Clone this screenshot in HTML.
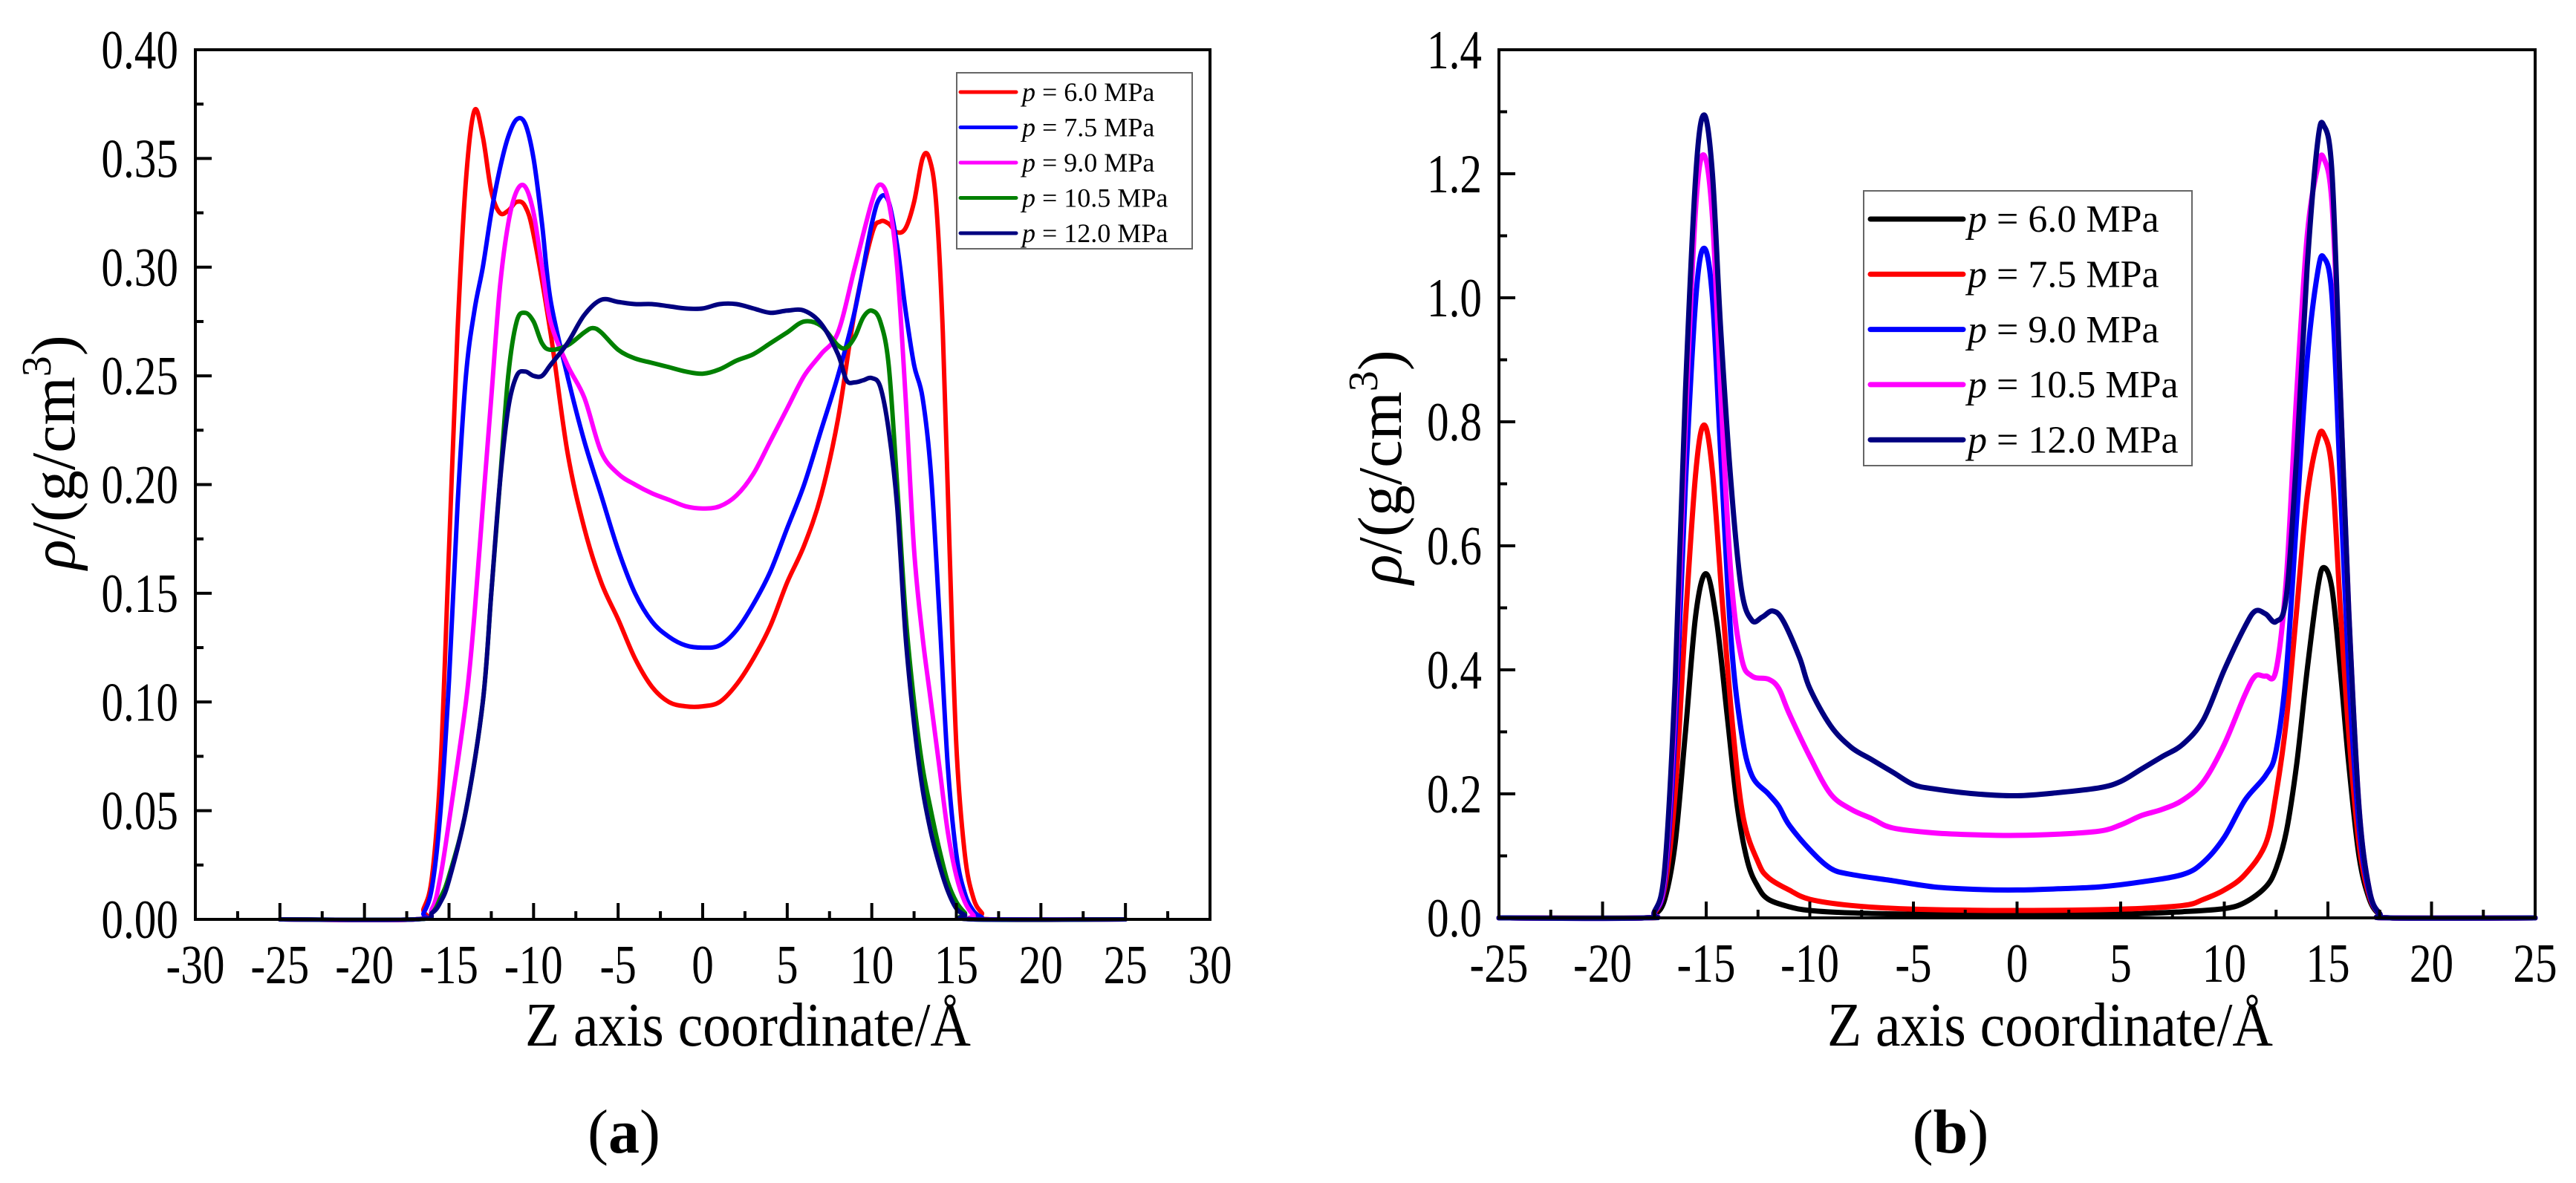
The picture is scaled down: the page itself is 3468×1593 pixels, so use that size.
<!DOCTYPE html>
<html><head><meta charset="utf-8"><style>
html,body{margin:0;padding:0;background:#fff;}
svg{display:block;font-family:"Liberation Serif",serif;}
</style></head><body>
<svg id="fig" width="3468" height="1593" viewBox="0 0 3468 1593" xmlns="http://www.w3.org/2000/svg">
<rect width="3468" height="1593" fill="#fff"/>
<g id="panelA"></g>
<g id="panelB"></g>
</svg>
<script>
// ---- Panel (a) data ----
const aLabels = ["6.0","7.5","9.0","10.5","12.0"];
const aColors = ["#ff0000","#0000ff","#ff00ff","#008000","#000080"];
const aX0 = [-25,-17,-16.5,-16,-15.5,-15,-14.5,-14,-13.5,-13,-12.5,-12,-11.5,-11,-10.5,-10,-9,-8,-7,-6,-5,-4,-3,-2,-1,0,1,2,3,4,5,6,7,8,9,10,10.5,11,11.5,12,12.5,13,13.4,13.8,14.2,14.6,15,15.5,16,16.5,17,25];
const aY0 = [0,0,0.005,0.02,0.07,0.17,0.27,0.34,0.372,0.36,0.335,0.325,0.326,0.33,0.328,0.315,0.27,0.215,0.18,0.155,0.138,0.12,0.107,0.1,0.098,0.098,0.1,0.108,0.12,0.135,0.155,0.172,0.195,0.23,0.28,0.315,0.321,0.32,0.316,0.318,0.33,0.35,0.35,0.33,0.27,0.17,0.08,0.03,0.01,0.003,0,0];
const aX1 = [-25,-17,-16.5,-16,-15.5,-15,-14.5,-14,-13.5,-13,-12.5,-12,-11.5,-11,-10.5,-10,-9.5,-9,-8,-7,-6,-5,-4,-3,-2,-1,0,1,2,3,4,5,6,7,8,9,10,10.5,11,11.5,12,12.5,13,13.5,14,14.5,15,15.5,16,16.5,17,25];
const aY1 = [0,0,0.003,0.015,0.05,0.11,0.19,0.25,0.28,0.3,0.325,0.345,0.36,0.368,0.366,0.35,0.32,0.285,0.25,0.22,0.195,0.17,0.15,0.137,0.13,0.126,0.125,0.126,0.133,0.145,0.16,0.18,0.2,0.225,0.25,0.28,0.32,0.332,0.33,0.31,0.28,0.255,0.24,0.205,0.14,0.07,0.03,0.012,0.004,0.001,0,0];
const aX2 = [-25,-17,-16,-15.5,-15,-14,-13.5,-13,-12.5,-12,-11.5,-11,-10.5,-10,-9.5,-9,-8,-7,-6,-5,-4,-3,-2,-1,0,1,2,3,4,5,6,7,8,9,10,10.5,11,11.5,12,12.5,13,13.5,14,14.5,15,15.5,16,16.5,25];
const aY2 = [0,0,0.005,0.02,0.045,0.1,0.14,0.19,0.24,0.29,0.32,0.335,0.337,0.325,0.3,0.275,0.255,0.24,0.215,0.205,0.2,0.196,0.193,0.19,0.189,0.19,0.195,0.205,0.22,0.235,0.25,0.26,0.27,0.3,0.33,0.338,0.33,0.3,0.24,0.17,0.13,0.1,0.07,0.04,0.02,0.008,0.002,0,0];
const aX3 = [-25,-17,-16,-15.5,-15,-14,-13,-12.5,-12,-11.5,-11,-10.5,-10,-9.5,-9,-8,-7,-6.5,-6,-5,-4,-3,-2,-1,0,1,2,3,4,5,6,7,8,8.5,9,9.5,10,10.5,11,11.5,12,12.5,13,13.5,14,14.5,15,15.5,16,25];
const aY3 = [0,0,0.003,0.01,0.02,0.05,0.1,0.15,0.2,0.25,0.275,0.279,0.275,0.265,0.262,0.264,0.27,0.272,0.27,0.262,0.258,0.256,0.254,0.252,0.251,0.253,0.257,0.26,0.265,0.27,0.275,0.273,0.264,0.263,0.268,0.277,0.28,0.275,0.255,0.2,0.14,0.1,0.07,0.05,0.032,0.017,0.008,0.003,0,0];
const aX4 = [-25,-17,-16,-15.5,-15,-14,-13,-12.5,-12,-11.5,-11,-10.5,-10,-9.5,-9,-8,-7,-6,-5,-4,-3,-2,-1,0,1,2,3,4,5,6,7,8,8.5,9,9.5,10,10.5,11,11.5,12,12.5,13,13.5,14,14.5,15,15.5,16,25];
const aY4 = [0,0,0.003,0.008,0.018,0.05,0.1,0.15,0.2,0.235,0.25,0.252,0.25,0.25,0.255,0.265,0.278,0.285,0.284,0.283,0.283,0.282,0.281,0.281,0.283,0.283,0.281,0.279,0.28,0.28,0.274,0.26,0.248,0.247,0.248,0.249,0.245,0.225,0.19,0.13,0.09,0.06,0.04,0.025,0.013,0.005,0.002,0,0];
const aXTicks = [-30,-25,-20,-15,-10,-5,0,5,10,15,20,25,30];
const aYTicks = ["0.00","0.05","0.10","0.15","0.20","0.25","0.30","0.35","0.40"];

// ---- Panel (b) data ----
const bLabels = ["6.0","7.5","9.0","10.5","12.0"];
const bColors = ["#000000","#ff0000","#0000ff","#ff00ff","#000080"];
const bX0 = [-25,-18,-17.5,-17,-16.5,-16,-15.5,-15,-14.5,-14,-13.5,-13,-12.5,-12,-11,-10,-8,-5,0,5,8,10,11,12,12.5,13,13.5,14,14.5,14.8,15.2,15.6,16,16.5,17,17.5,18,25];
const bY0 = [0,0,0.005,0.03,0.12,0.3,0.49,0.555,0.48,0.33,0.18,0.09,0.05,0.03,0.018,0.012,0.008,0.006,0.005,0.006,0.01,0.015,0.025,0.05,0.08,0.14,0.25,0.4,0.53,0.565,0.53,0.4,0.25,0.1,0.03,0.005,0,0];
const bX1 = [-25,-18,-17.5,-17,-16.5,-16,-15.5,-15.1,-14.7,-14.2,-13.7,-13.2,-12.5,-12,-11,-10,-8,-5,0,5,8,9,10,11,12,12.5,13,13.5,14,14.5,14.8,15.2,15.6,16,16.5,17,17.5,18,25];
const bY1 = [0,0,0.008,0.05,0.2,0.48,0.72,0.795,0.72,0.5,0.3,0.16,0.09,0.065,0.045,0.03,0.02,0.014,0.012,0.014,0.02,0.03,0.045,0.07,0.12,0.2,0.32,0.5,0.68,0.77,0.78,0.72,0.5,0.3,0.12,0.035,0.006,0,0];
const bX2 = [-25,-18,-17.5,-17,-16.5,-16,-15.5,-15.1,-14.7,-14.3,-13.8,-13.3,-12.8,-12,-11.5,-11,-10,-9,-8,-6,-4,-2,0,2,4,6,8,9,10,11,12,12.5,13,13.5,14,14.5,14.8,15.2,15.6,16,16.5,17,17.5,18,25];
const bY2 = [0,0,0.01,0.06,0.3,0.7,1.0,1.08,1.0,0.75,0.45,0.3,0.23,0.2,0.18,0.15,0.11,0.08,0.07,0.06,0.05,0.046,0.045,0.047,0.05,0.058,0.07,0.09,0.13,0.19,0.23,0.27,0.4,0.65,0.9,1.04,1.065,1.0,0.7,0.4,0.15,0.04,0.006,0,0];
const bX3 = [-25,-18,-17.5,-17,-16.5,-16,-15.5,-15.1,-14.7,-14.3,-13.8,-13.3,-12.8,-12,-11.5,-11,-10,-9,-8,-7,-6,-4,-2,0,2,4,5,6,7,8,9,10,11,11.5,12,12.5,13,13.5,14,14.5,14.8,15.2,15.6,16,16.5,17,17.5,18,25];
const bY3 = [0,0,0.01,0.07,0.35,0.8,1.15,1.23,1.13,0.85,0.55,0.42,0.39,0.385,0.37,0.33,0.26,0.2,0.175,0.16,0.145,0.137,0.134,0.133,0.135,0.14,0.15,0.165,0.175,0.19,0.22,0.28,0.36,0.39,0.39,0.4,0.55,0.85,1.1,1.21,1.225,1.15,0.85,0.5,0.18,0.045,0.007,0,0];
const bX4 = [-25,-18,-17.5,-17,-16.5,-16,-15.5,-15.1,-14.7,-14.3,-13.8,-13.3,-12.8,-12.3,-11.8,-11.3,-10.5,-10,-9,-8,-7,-6,-5,-4,-2,0,2,4,5,6,7,8,9,10,11,11.5,12,12.5,13,13.5,14,14.5,14.8,15.2,15.6,16,16.5,17,17.5,18,25];
const bY4 = [0,0,0.01,0.08,0.38,0.85,1.2,1.295,1.2,0.95,0.7,0.53,0.48,0.485,0.495,0.48,0.42,0.37,0.31,0.275,0.255,0.235,0.215,0.208,0.2,0.197,0.202,0.21,0.22,0.24,0.26,0.28,0.32,0.4,0.47,0.495,0.49,0.478,0.52,0.75,1.05,1.25,1.278,1.2,0.85,0.5,0.18,0.045,0.007,0,0];
const bXTicks = [-25,-20,-15,-10,-5,0,5,10,15,20,25];
const bYTicks = ["0.0","0.2","0.4","0.6","0.8","1.0","1.2","1.4"];

const NS = "http://www.w3.org/2000/svg";
function mk(parent, tag, attrs, text){
  const e = document.createElementNS(NS, tag);
  for (const k in attrs) e.setAttribute(k, attrs[k]);
  if (text !== undefined) e.textContent = text;
  parent.appendChild(e);
  return e;
}
function smoothPath(pts){
  let d = "M" + pts[0][0].toFixed(1) + "," + pts[0][1].toFixed(1);
  for (let i = 0; i < pts.length - 1; i++){
    const p0 = pts[Math.max(0,i-1)], p1 = pts[i], p2 = pts[i+1], p3 = pts[Math.min(pts.length-1,i+2)];
    const c1x = p1[0] + (p2[0]-p0[0])/6, c1y = p1[1] + (p2[1]-p0[1])/6;
    const c2x = p2[0] - (p3[0]-p1[0])/6, c2y = p2[1] - (p3[1]-p1[1])/6;
    d += " C" + c1x.toFixed(1) + "," + c1y.toFixed(1) + " " + c2x.toFixed(1) + "," + c2y.toFixed(1) + " " + p2[0].toFixed(1) + "," + p2[1].toFixed(1);
  }
  return d;
}

function drawPanel(g, cfg){
  const sx = v => cfg.L + (v - cfg.xmin) / (cfg.xmax - cfg.xmin) * (cfg.R - cfg.L);
  const sy = v => cfg.B - (v - cfg.ymin) / (cfg.ymax - cfg.ymin) * (cfg.B - cfg.T);
  const sg = mk(g, "g", {});
  
  
  for (let s = 0; s < cfg.xs.length; s++){
    const pts = cfg.xs[s].map((x,i) => [sx(x), sy(cfg.ys[s][i])]);
    const p = mk(sg, "path", {d: smoothPath(pts), fill:"none", stroke: cfg.colors[s], "stroke-width": cfg.lw, "stroke-linejoin":"round", "stroke-linecap":"round"});
    
    
  }
  const fr = mk(g, "rect", {x: cfg.L, y: cfg.T, width: cfg.R - cfg.L, height: cfg.B - cfg.T, fill:"none", stroke:"#000", "stroke-width":4});
  
  
  const xt = mk(g, "g", {});
  
  
  for (let i = 0; i < cfg.xticks.length; i++){
    const v = cfg.xticks[i], x = sx(v);
    mk(xt, "line", {x1:x, x2:x, y1:cfg.B, y2:cfg.B-22, stroke:"#000", "stroke-width":4});
    if (i < cfg.xticks.length - 1){
      const xm = sx((v + cfg.xticks[i+1]) / 2);
      mk(xt, "line", {x1:xm, x2:xm, y1:cfg.B, y2:cfg.B-11, stroke:"#000", "stroke-width":4});
    }
    const t = mk(xt, "text", {x:0, y:0, "font-size":74, "text-anchor":"middle", transform:"translate(" + x.toFixed(1) + "," + (cfg.B+86) + ") scale(0.8,1)"}, String(v));
    
    
  }
  const yt = mk(g, "g", {});
  
  
  for (let i = 0; i < cfg.yticks.length; i++){
    const v = parseFloat(cfg.yticks[i]), y = sy(v);
    mk(yt, "line", {x1:cfg.L, x2:cfg.L+22, y1:y, y2:y, stroke:"#000", "stroke-width":4});
    if (i < cfg.yticks.length - 1){
      const ym = sy((v + parseFloat(cfg.yticks[i+1])) / 2);
      mk(yt, "line", {x1:cfg.L, x2:cfg.L+11, y1:ym, y2:ym, stroke:"#000", "stroke-width":4});
    }
    const t = mk(yt, "text", {x:0, y:0, "font-size":74, "text-anchor":"end", transform:"translate(" + (cfg.L-23) + "," + (y+25).toFixed(1) + ") scale(0.8,1)"}, cfg.yticks[i]);
    
    
  }
  const xtitle = mk(g, "text", {x:cfg.xtx, y:1408, "font-size":84, "text-anchor":"middle", textLength:600, lengthAdjust:"spacingAndGlyphs"}, "Z axis coordinate/Å");
  
  
  const ytitle = mk(g, "text", {x:0, y:0, "font-size":84, "text-anchor":"middle", transform:"translate(" + cfg.ytx + "," + cfg.yty + ") rotate(-90)"});
  
  
  mk(ytitle, "tspan", {"font-style":"italic"}, "ρ");
  mk(ytitle, "tspan", {}, "/(g/cm");
  mk(ytitle, "tspan", {"font-size":56, dy:-32}, "3");
  mk(ytitle, "tspan", {dy:32}, ")");
  const lg = mk(g, "g", {});
  
  
  const lb = mk(lg, "rect", {x:cfg.lgx, y:cfg.lgy, width:cfg.lgw, height:cfg.lgh, fill:"#fff", stroke:"#666", "stroke-width":2});
  
  
  for (let s = 0; s < cfg.labels.length; s++){
    const y = cfg.lgy0 + s * cfg.lgdy;
    const e = mk(lg, "g", {});
    
    
    mk(e, "line", {x1:cfg.lgx+cfg.lsx1, x2:cfg.lgx+cfg.lsx2, y1:y, y2:y, stroke:cfg.colors[s], "stroke-width":cfg.llw, "stroke-linecap":"round"});
    const t = mk(e, "text", {x:cfg.lgx+cfg.ltx, y:y+cfg.lfs*0.33, "font-size":cfg.lfs});
    mk(t, "tspan", {"font-style":"italic"}, "p");
    mk(t, "tspan", {}, " = " + cfg.labels[s] + " MPa");
  }
  const cap = mk(g, "text", {x:cfg.capx, y:1552, "font-size":84, "text-anchor":"middle"});
  
  
  mk(cap, "tspan", {}, "(");
  mk(cap, "tspan", {"font-weight":"bold"}, cfg.cap);
  mk(cap, "tspan", {}, ")");
}

drawPanel(document.getElementById("panelA"), {
  L:263, R:1629, T:67, B:1238, xmin:-30, xmax:30, ymin:0, ymax:0.4,
  xs:[aX0,aX1,aX2,aX3,aX4], ys:[aY0,aY1,aY2,aY3,aY4], colors:aColors, labels:aLabels, lw:6,
  xticks:aXTicks, yticks:aYTicks, xtx:1007, ytx:100, yty:609,
  lgx:1288, lgy:98, lgw:317, lgh:237, lgy0:124, lgdy:47.5, lsx1:5, lsx2:80, ltx:88, lfs:36, llw:5,
  capx:840, cap:"a"
});
drawPanel(document.getElementById("panelB"), {
  L:2018, R:3413, T:67, B:1236, xmin:-25, xmax:25, ymin:0, ymax:1.4,
  xs:[bX0,bX1,bX2,bX3,bX4], ys:[bY0,bY1,bY2,bY3,bY4], colors:bColors, labels:bLabels, lw:7,
  xticks:bXTicks, yticks:bYTicks, xtx:2760, ytx:1886, yty:629,
  lgx:2509, lgy:257, lgw:442, lgh:370, lgy0:295, lgdy:74.3, lsx1:9, lsx2:134, ltx:140, lfs:52, llw:7,
  capx:2626, cap:"b"
});
</script>
</body></html>
